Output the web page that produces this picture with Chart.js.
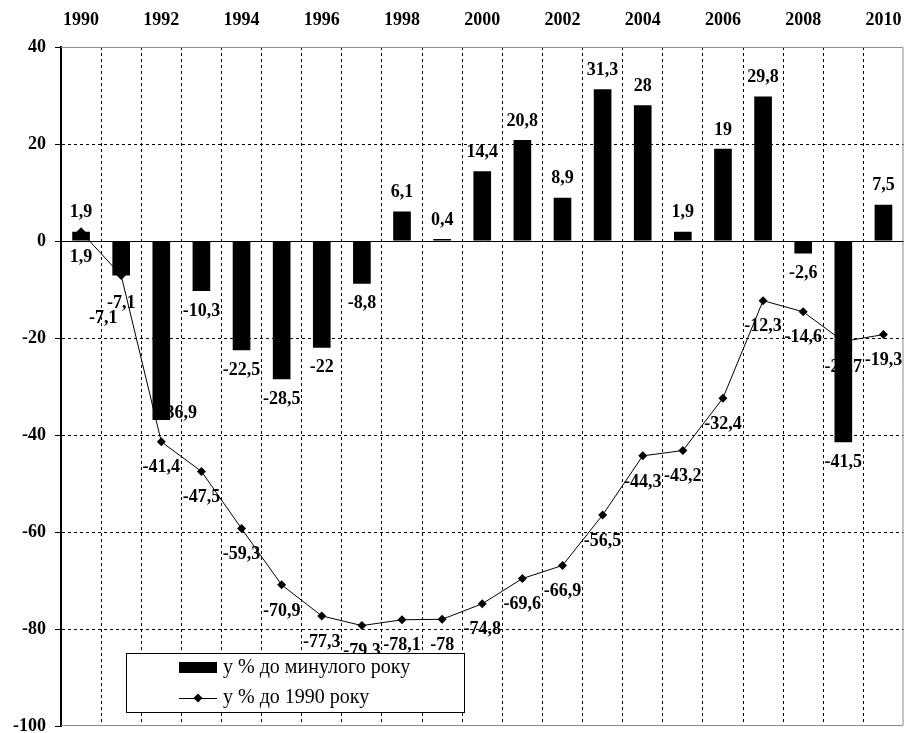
<!DOCTYPE html>
<html>
<head>
<meta charset="utf-8">
<script src="https://cdn.jsdelivr.net/npm/chart.js@4.4.1/dist/chart.umd.min.js"></script>
<style>
html, body { margin: 0; padding: 0; background: #fff; }
#wrap { width: 908px; height: 733px; }
</style>
</head>
<body>
<div id="wrap"><canvas id="chart"></canvas></div>
<script>
const years = [1990, 1991, 1992, 1993, 1994, 1995, 1996, 1997, 1998, 1999, 2000,
               2001, 2002, 2003, 2004, 2005, 2006, 2007, 2008, 2009, 2010];
const toPrevYear = [1.9, -7.1, -36.9, -10.3, -22.5, -28.5, -22, -8.8, 6.1, 0.4, 14.4,
                    20.8, 8.9, 31.3, 28, 1.9, 19, 29.8, -2.6, -41.5, 7.5];
const to1990 = [1.9, -7.1, -41.4, -47.5, -59.3, -70.9, -77.3, -79.3, -78.1, -78, -74.8,
                -69.6, -66.9, -56.5, -44.3, -43.2, -32.4, -12.3, -14.6, -20.7, -19.3];
const seriesNames = ['у % до минулого року', 'у % до 1990 року'];
const yMin = -100, yMax = 40, yStep = 20;

const serif = '"Liberation Serif", "Times New Roman", serif';
const fmt = v => String(v).replace('.', ',');

// a few labels were moved by hand in the original (dataset -> index -> [dx, dy])
const labelNudge = { 0: { 1: [0, 8], 2: [17, -27] }, 1: { 1: [-18, 17] } };

const labelPlugin = {
    id: 'valueLabels',
    beforeDatasetsDraw(chart) {
        const ctx = chart.ctx;
        ctx.save();
        ctx.font = 'bold 18px ' + serif;
        ctx.fillStyle = '#000';
        ctx.textAlign = 'center';
        ctx.textBaseline = 'middle';
        chart.data.datasets.forEach((ds, di) => {
            const meta = chart.getDatasetMeta(di);
            meta.data.forEach((el, i) => {
                const v = ds.data[i];
                let x = el.x, y;
                if (ds.type === 'line') y = el.y + 26;
                else y = v >= 0 ? el.y - 19 : el.y + 20;
                const n = (labelNudge[di] || {})[i];
                if (n) { x += n[0]; y += n[1]; }
                ctx.fillText(fmt(v), x, y);
            });
        });
        ctx.restore();
    }
};

const framePlugin = {
    id: 'frame',
    beforeDatasetsDraw(chart) {
        const { ctx, chartArea: a, scales } = chart;
        ctx.save();
        ctx.lineWidth = 1;
        ctx.strokeStyle = '#8c8c8c';
        ctx.beginPath();
        ctx.moveTo(a.left, a.top + 0.5);
        ctx.lineTo(a.right - 0.5, a.top + 0.5);
        ctx.lineTo(a.right - 0.5, a.bottom - 0.5);
        ctx.lineTo(a.left, a.bottom - 0.5);
        ctx.stroke();
        // solid zero line
        const y0 = Math.round(scales.y.getPixelForValue(0)) + 0.5;
        ctx.strokeStyle = '#000';
        ctx.beginPath();
        ctx.moveTo(a.left, y0);
        ctx.lineTo(a.right, y0);
        ctx.stroke();
        ctx.restore();
    }
};

const legendPlugin = {
    id: 'boxLegend',
    afterDraw(chart) {
        const { ctx, chartArea: a } = chart;
        const bx = a.left + 65, by = a.bottom - 73, bw = 338, bh = 59;
        ctx.save();
        ctx.fillStyle = '#fff';
        ctx.fillRect(bx, by, bw, bh);
        ctx.strokeStyle = '#000';
        ctx.lineWidth = 1;
        ctx.strokeRect(bx + 0.5, by + 0.5, bw, bh);
        ctx.font = '20px ' + serif;
        ctx.textBaseline = 'middle';
        ctx.fillStyle = '#000';
        const names = chart.data.datasets.map(d => d.label);
        // bar swatch
        let cy = by + 15;
        ctx.fillRect(bx + 53, cy - 6, 38, 11);
        ctx.fillText(names[0], bx + 97, cy);
        // line swatch
        cy = by + 45;
        ctx.beginPath();
        ctx.moveTo(bx + 53, cy + 0.5);
        ctx.lineTo(bx + 91, cy + 0.5);
        ctx.stroke();
        ctx.beginPath();
        ctx.moveTo(bx + 72, cy - 4.5);
        ctx.lineTo(bx + 76.5, cy);
        ctx.lineTo(bx + 72, cy + 4.5);
        ctx.lineTo(bx + 67.5, cy);
        ctx.closePath();
        ctx.fill();
        ctx.fillText(names[1], bx + 97, cy);
        ctx.restore();
    }
};

const ctx = document.getElementById('chart').getContext('2d');
new Chart(ctx, {
    type: 'bar',
    data: {
        labels: years,
        datasets: [{
            type: 'bar',
            label: seriesNames[0],
            data: toPrevYear,
            backgroundColor: '#000',
            borderWidth: 0,
            barPercentage: 0.44,
            categoryPercentage: 1,
            order: 2
        }, {
            type: 'line',
            label: seriesNames[1],
            data: to1990,
            borderColor: '#000',
            borderWidth: 1,
            pointStyle: 'rectRot',
            pointRadius: 4.5,
            pointBackgroundColor: '#000',
            pointBorderWidth: 0,
            tension: 0,
            order: 1
        }]
    },
    options: {
        responsive: true,
        maintainAspectRatio: false,
        animation: false,
        layout: { padding: { right: 2, bottom: 7 } },
        plugins: {
            legend: { display: false },
            tooltip: { enabled: false }
        },
        scales: {
            x: {
                position: 'top',
                afterFit: s => { s.height = 47; s.paddingLeft = 0; s.paddingRight = 0; },
                grid: {
                    color: c => (c.index > 0 && c.index < years.length) ? '#000' : 'rgba(0,0,0,0)',
                    lineWidth: 1,
                    drawTicks: false
                },
                border: { display: false, dash: [3, 3] },
                ticks: {
                    autoSkip: false,
                    maxRotation: 0,
                    padding: 16,
                    color: '#000',
                    font: { family: serif, size: 18, weight: 'bold' },
                    callback: (val, i) => (i % 2 === 0 ? String(years[i]) : '')
                }
            },
            y: {
                min: yMin,
                max: yMax,
                afterFit: s => { s.width = 61; s.paddingTop = 0; s.paddingBottom = 0; },
                grid: {
                    color: c => [yMin, yMax, 0].includes(c.tick.value) ? 'rgba(0,0,0,0)' : '#000',
                    tickColor: '#000',
                    tickLength: 6,
                    tickBorderDash: [],
                    lineWidth: 1
                },
                border: { display: true, color: '#000', width: 2, dash: [3, 3] },
                ticks: {
                    stepSize: yStep,
                    padding: 9,
                    color: '#000',
                    font: { family: serif, size: 18, weight: 'bold' }
                }
            }
        }
    },
    plugins: [framePlugin, labelPlugin, legendPlugin]
});
</script>
</body>
</html>
